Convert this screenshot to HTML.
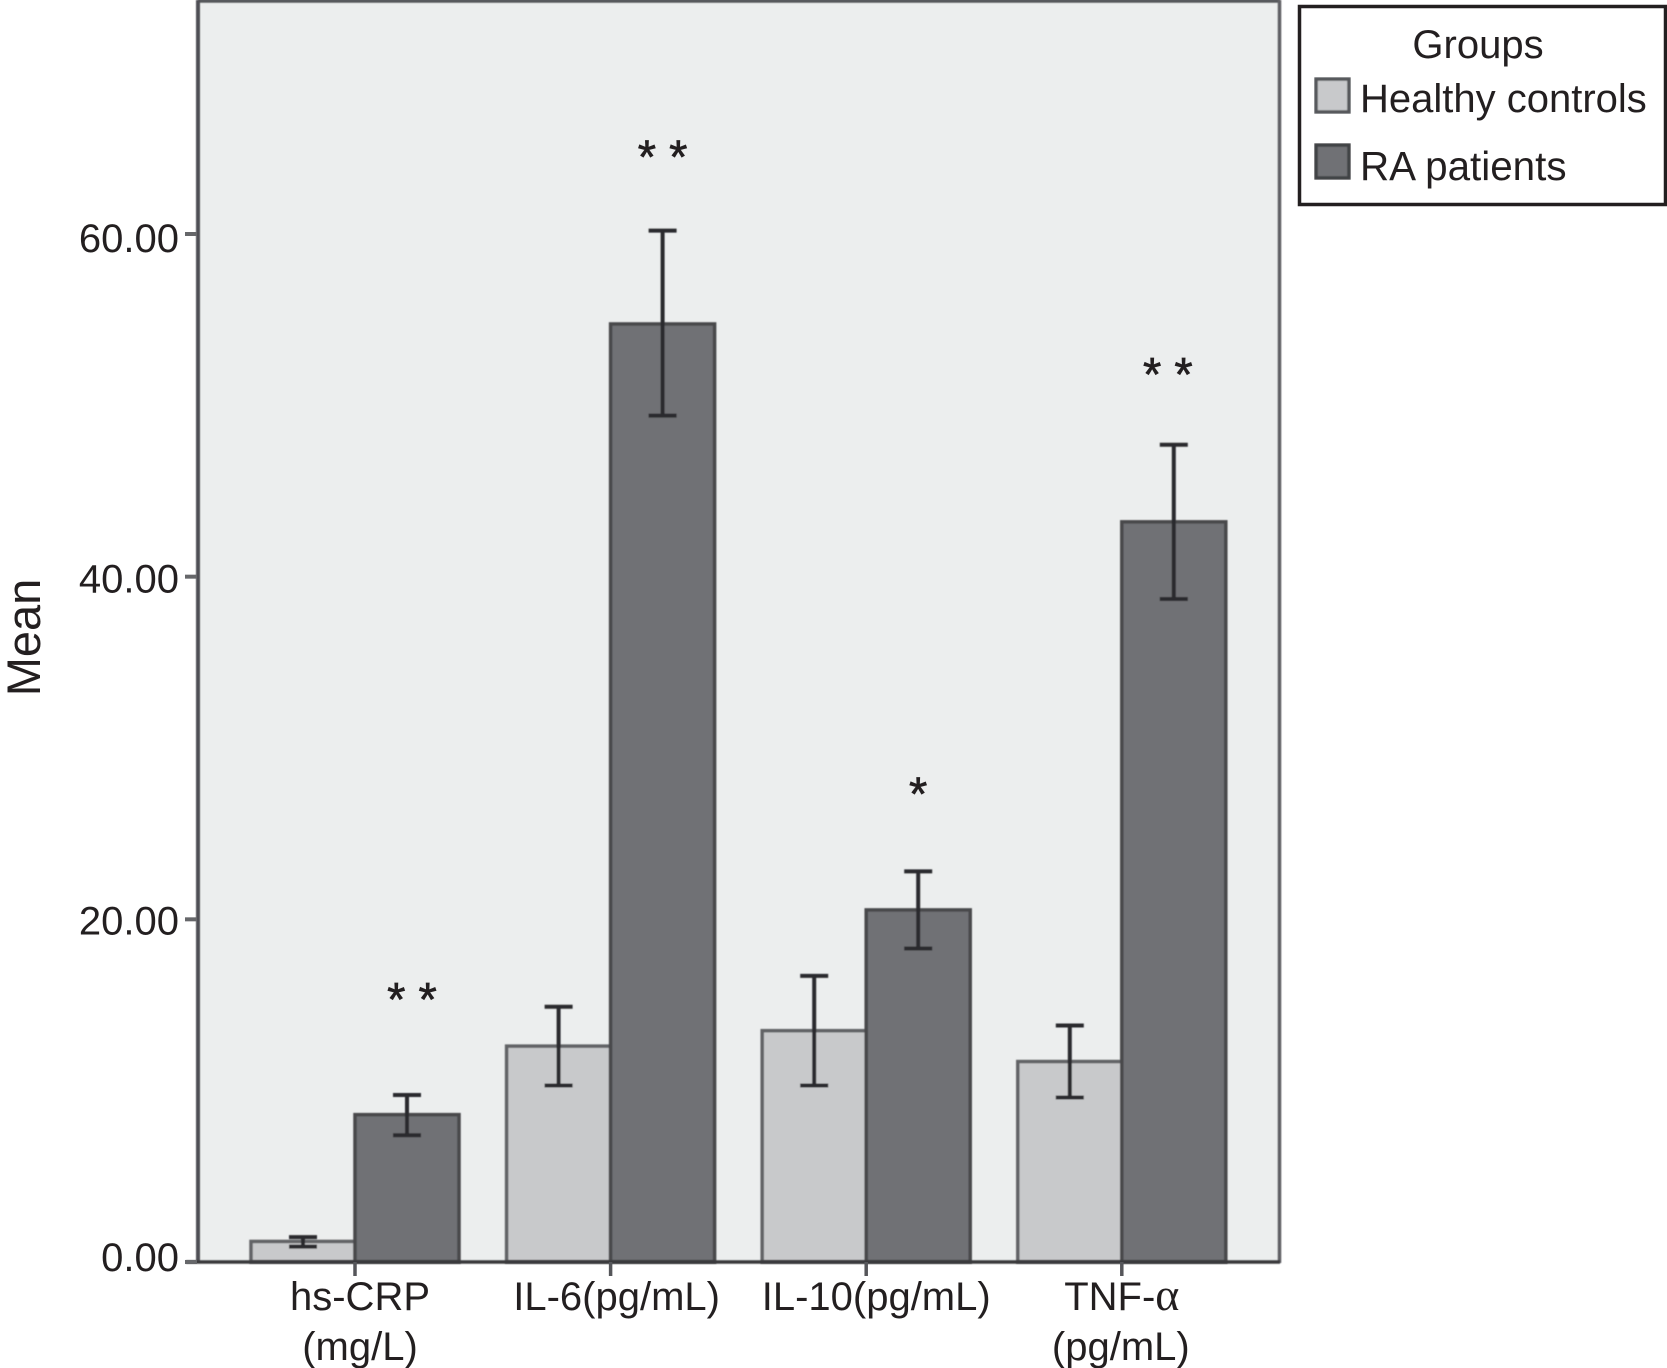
<!DOCTYPE html>
<html lang="en">
<head>
<meta charset="utf-8">
<title>Mean cytokine levels by group</title>
<style>
  html, body { margin: 0; padding: 0; background: #fff; }
  svg { display: block; }
  text { font-family: "Liberation Sans", sans-serif; fill: #231f20; }
</style>
</head>
<body>
<svg id="chart" xmlns="http://www.w3.org/2000/svg" width="1667" height="1368" viewBox="0 0 1667 1368">
  <defs>
    <filter id="soft" x="-5%" y="-5%" width="110%" height="110%">
      <feGaussianBlur stdDeviation="0.6"></feGaussianBlur>
    </filter>
  </defs>
  <rect x="0" y="0" width="1667" height="1368" fill="#ffffff"></rect>
  <rect x="198" y="1" width="1081" height="1261" fill="#eceeee"></rect>
  <g id="marks" filter="url(#soft)"></g>
  <g filter="url(#soft)">
    <line x1="198" y1="1" x2="1280" y2="1" stroke="#55565a" stroke-width="3.5"></line>
    <line x1="198" y1="0" x2="198" y2="1263" stroke="#4f5054" stroke-width="4"></line>
    <line x1="1279.5" y1="0" x2="1279.5" y2="1263" stroke="#606165" stroke-width="3.5"></line>
    <line x1="186" y1="1262" x2="1280" y2="1262" stroke="#3a3b3e" stroke-width="3.5"></line>
  </g>
  <g id="axes"></g>
  <text x="40" y="637.5" font-size="47" text-anchor="middle" transform="rotate(-90 40 637.5)">Mean</text>

  <g>
    <rect x="1299.5" y="6.5" width="366" height="198" fill="#ffffff" stroke="#231f20" stroke-width="3.5"></rect>
    <text x="1478" y="58" font-size="40" text-anchor="middle">Groups</text>
    <rect x="1316" y="79" width="33" height="33" fill="#c8c9cb" stroke="#55565a" stroke-width="3.5" filter="url(#soft)"></rect>
    <text x="1360" y="112" font-size="40">Healthy controls</text>
    <rect x="1316" y="145" width="33" height="33" fill="#707175" stroke="#414245" stroke-width="3.5" filter="url(#soft)"></rect>
    <text x="1360" y="180" font-size="40.4">RA patients</text>
  </g>
</svg>
<script>
// Chart data
const categories = ["hs-CRP", "IL-6", "IL-10", "TNF-alpha"];
const categoryLine1 = ["hs-CRP", "IL-6(pg/mL)", "IL-10(pg/mL)", "TNF-"];
const categoryLine2 = ["(mg/L)", "", "", "(pg/mL)"];
const healthyMeans = [1.2, 12.6, 13.5, 11.7];
const healthyUpper = [1.45, 14.9, 16.7, 13.8];
const healthyLower = [0.9, 10.3, 10.3, 9.6];
const patientMeans = [8.6, 54.75, 20.55, 43.2];
const patientUpper = [9.75, 60.2, 22.8, 47.7];
const patientLower = [7.4, 49.4, 18.3, 38.7];
const significance = ["* *", "* *", "*", "* *"];
const significanceLevel = [15.6, 64.8, 27.6, 52.1];
const yTicks = [0, 20, 40, 60];
const yTickLabels = ["0.00", "20.00", "40.00", "60.00"];

// Axis functions
const SVG_NS = "http://www.w3.org/2000/svg";
const baseY = 1262;
const unitPx = (1262 - 234) / 60;
const firstCenter = 355;
const groupStep = 255.6;
const barWidth = 104;
function yScale(v) { return baseY - v * unitPx; }
function xCenter(i) { return firstCenter + i * groupStep; }

function mk(tag, attrs, parent) {
  const el = document.createElementNS(SVG_NS, tag);
  for (const k in attrs) el.setAttribute(k, attrs[k]);
  parent.appendChild(el);
  return el;
}

const marks = document.getElementById("marks");
const axes = document.getElementById("axes");

function drawBar(i, left, mean, fill, stroke, prefix) {
  const top = yScale(mean);
  const bar = mk("rect", { x: left, y: top, width: barWidth, height: baseY - top, fill: fill, stroke: stroke, "stroke-width": 3.5 }, marks);
  
  
}

function drawError(i, cx, hi, lo, prefix) {
  const g = mk("g", { stroke: "#2b2b2e", "stroke-width": 4, fill: "none" }, marks);
  
  
  const yHi = yScale(hi);
  const yLo = yScale(lo);
  mk("line", { x1: cx, y1: yHi, x2: cx, y2: yLo }, g);
  mk("line", { x1: cx - 14, y1: yHi, x2: cx + 14, y2: yHi }, g);
  mk("line", { x1: cx - 14, y1: yLo, x2: cx + 14, y2: yLo }, g);
}

categories.forEach(function (name, i) {
  const c = xCenter(i);
  drawBar(i, c - barWidth, healthyMeans[i], "#c8c9cb", "#626366", "healthy");
  drawBar(i, c, patientMeans[i], "#707175", "#48494c", "patients");
  drawError(i, c - barWidth / 2, healthyUpper[i], healthyLower[i], "healthy");
  drawError(i, c + barWidth / 2, patientUpper[i], patientLower[i], "patients");

  const tick = mk("line", { x1: c, y1: baseY, x2: c, y2: baseY + 14, stroke: "#55565a", "stroke-width": 3.5 }, axes);
  
  

  const labelNudge = i === 0 ? 5 : i === 1 ? 6 : i === 2 ? 10 : 0;
  const label = mk("text", { x: c + labelNudge, y: 1310, "font-size": 40, "text-anchor": "middle" }, axes);
  
  
  label.textContent = categoryLine1[i];
  if (name === "TNF-alpha") {
    const alpha = mk("tspan", { style: 'font-family:"Liberation Serif",serif;font-size:46px' }, label);
    alpha.textContent = "\u03B1";
  }

  if (categoryLine2[i]) {
    const label2 = mk("text", { x: c + (i === 0 ? 5 : -1), y: 1360, "font-size": 40, "text-anchor": "middle" }, axes);
    
    
    label2.textContent = categoryLine2[i];
  }

  const starNudge = i === 0 ? 5 : i === 3 ? -6 : 0;
  const star = mk("text", { x: c + barWidth / 2 + starNudge, y: yScale(significanceLevel[i]) + 21, "font-size": 47, "text-anchor": "middle", "xml:space": "preserve", stroke: "#231f20", "stroke-width": 0.7 }, axes);
  
  
  star.textContent = significance[i];
});

yTicks.forEach(function (v, i) {
  const y = yScale(v);
  const tick = mk("line", { x1: 185, y1: y, x2: 197, y2: y, stroke: "#66676a", "stroke-width": 4 }, axes);
  
  

  const labelOffset = v === 0 ? 9 : v === 20 ? 15 : v === 60 ? 18 : 16;
  const label = mk("text", { x: 179, y: y + labelOffset, "font-size": 40, "text-anchor": "end" }, axes);
  
  
  label.textContent = yTickLabels[i];
});
</script>
</body>
</html>
